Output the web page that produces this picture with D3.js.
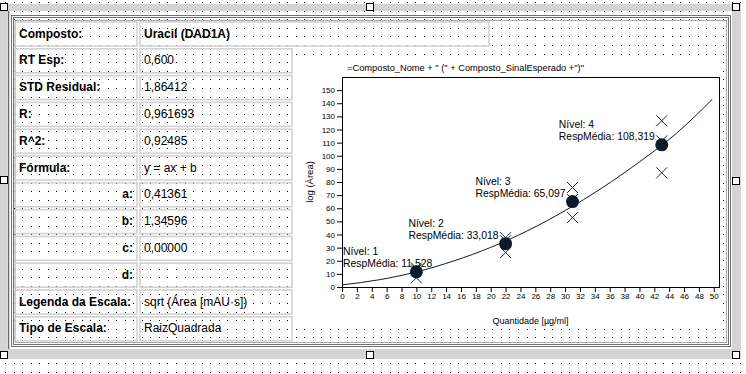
<!DOCTYPE html>
<html>
<head>
<meta charset="utf-8">
<script src="https://cdn.jsdelivr.net/npm/d3@7"></script>
<style>
  html, body { margin: 0; padding: 0; background: #fff; overflow: hidden; }
  svg { display: block; font-family: Arial, "Liberation Sans", sans-serif; }
</style>
</head>
<body>
<div id="chart"></div>
<script>
"use strict";

// report fields (left table)
const fieldLabels = ["Composto:", "RT Esp:", "STD Residual:", "R:", "R^2:", "Fórmula:",
    "a:", "b:", "c:", "d:", "Legenda da Escala:", "Tipo de Escala:"];
const fieldValues = ["Uracil (DAD1A)", "0,600", "1,86412", "0,961693", "0,92485", "y = ax + b",
    "0,41361", "1,34596", "0,00000", "", "sqrt (Área [mAU·s])", "RaizQuadrada"];
const rightAligned = ["a:", "b:", "c:", "d:"];
const boldValues = ["Uracil (DAD1A)"];

// calibration levels
const levels = [1, 2, 3, 4];
const levelQty = [10, 22, 31, 43];
const levelMean = [11.528, 33.018, 65.097, 108.319];
const levelMeanText = ["11,528", "33,018", "65,097", "108,319"];
const replicates = [
    [14.5, 13.1, 7.0],
    [37.6, 35.3, 26.2],
    [75.8, 66.6, 52.9],
    [126.7, 111.3, 87.0]
];

// fitted curve
const curveQty = [0, 5, 10, 15, 20, 25, 30, 35, 40, 45, 49.8];
const curveResp = [1.6, 5.5, 11.5, 19.8, 30.2, 43.0, 58.2, 75.6, 95.3, 117.2, 143.0];

// tick labels
const xTicks = [0, 2, 4, 6, 8, 10, 12, 14, 16, 18, 20, 22, 24, 26, 28, 30, 32, 34, 36, 38, 40, 42, 44, 46, 48, 50];
const yTicks = [0, 10, 20, 30, 40, 50, 60, 70, 80, 90, 100, 110, 120, 130, 140, 150];

const chartTitle = '=Composto_Nome + " (" + Composto_SinalEsperado +")"';
const xTitle = "Quantidade [µg/ml]";
const yTitle = "log (Área)";

const msm = {
    width: 746,
    height: 374,
    plotLeft: 342,
    plotRight: 719,
    plotTop: 77,
    plotBottom: 287
};

const svg = d3.select("#chart").append("svg")
    .attr("width", msm.width)
    .attr("height", msm.height);

// designer grid dots
let dots = "";
for (let y = 2; y < msm.height; y += 8.6) {
    for (let x = 5; x < msm.width; x += 8.55) {
        dots += "M" + Math.round(x) + "," + Math.round(y) + "h1v1h-1z";
    }
}
svg.append("path").attr("d", dots).attr("fill", "#000");

// selection band
svg.append("path")
    .attr("d", "M0,4H741V359H0Z M7,11V349H732V11Z")
    .attr("fill", "#d4d4d4")
    .attr("fill-rule", "evenodd");
svg.append("line")
    .attr("x1", 8.5).attr("x2", 8.5).attr("y1", 11).attr("y2", 349)
    .attr("stroke", "#6a6a6a").attr("stroke-width", 1.5);

// section frame lines
[[11.5, 15.5, 730.5, 346.5, "#707070"], [13.5, 17.5, 728.5, 344.5, "#707070"], [15.5, 20.5, 726.5, 342.5, "#a8a8a8"]]
    .forEach(r => {
        svg.append("rect")
            .attr("x", r[0]).attr("y", r[1])
            .attr("width", r[2] - r[0]).attr("height", r[3] - r[1])
            .attr("fill", "none").attr("stroke", r[4]).attr("stroke-width", 1);
    });

// table
const rowTop = i => 22 + i * 26.8;
const rows = svg.append("g").selectAll("g")
    .data(fieldLabels)
    .enter().append("g");

rows.append("rect")
    .attr("x", 15).attr("y", (d, i) => rowTop(i))
    .attr("width", 122).attr("height", 24)
    .attr("fill", "none").attr("stroke", "#d2d2d2").attr("stroke-width", 1.6);
rows.append("rect")
    .attr("x", 140).attr("y", (d, i) => rowTop(i))
    .attr("width", (d, i) => i === 0 ? 349 : 152).attr("height", 24)
    .attr("fill", "none").attr("stroke", "#d2d2d2").attr("stroke-width", 1.6);

rows.append("text")
    .attr("x", d => rightAligned.includes(d) ? 133 : 19)
    .attr("y", (d, i) => rowTop(i) + 15.5)
    .attr("text-anchor", d => rightAligned.includes(d) ? "end" : "start")
    .style("font-size", "12px")
    .style("font-weight", "bold")
    .text(d => d);

rows.append("text")
    .attr("x", 144)
    .attr("y", (d, i) => rowTop(i) + 15.5)
    .style("font-size", "12px")
    .style("font-weight", (d, i) => boldValues.includes(fieldValues[i]) ? "bold" : "normal")
    .text((d, i) => fieldValues[i]);

// chart background
svg.append("rect")
    .attr("x", 296).attr("y", 56)
    .attr("width", 426).attr("height", 267)
    .attr("fill", "#fff");

svg.append("text")
    .attr("x", 347).attr("y", 71)
    .style("font-size", "9.3px")
    .text(chartTitle);

// scales
const xScale = d3.scaleLinear().domain([0, 50.7]).range([msm.plotLeft, msm.plotRight]);
const yScale = d3.scaleLinear().domain([0, 160]).range([msm.plotBottom, msm.plotTop]);

// axes
const xAxis = svg.append("g")
    .attr("transform", "translate(0," + msm.plotBottom + ")")
    .call(d3.axisBottom(xScale).tickValues(xTicks).tickSize(5).tickPadding(1));
const yAxis = svg.append("g")
    .attr("transform", "translate(" + msm.plotLeft + ",0)")
    .call(d3.axisLeft(yScale).tickValues(yTicks).tickSize(5).tickPadding(2));
[xAxis, yAxis].forEach(a => {
    a.select(".domain").remove();
    a.selectAll("text").style("font-size", "8px").style("font-family", "Arial, 'Liberation Sans', sans-serif").attr("fill", "#000");
    a.selectAll("line").attr("stroke", "#000");
});

svg.append("rect")
    .attr("x", msm.plotLeft + 0.5).attr("y", msm.plotTop + 0.5)
    .attr("width", msm.plotRight - msm.plotLeft).attr("height", msm.plotBottom - msm.plotTop)
    .attr("fill", "none").attr("stroke", "#000").attr("stroke-width", 1);

svg.append("text")
    .attr("x", (msm.plotLeft + msm.plotRight) / 2).attr("y", 324)
    .attr("text-anchor", "middle")
    .style("font-size", "9px")
    .text(xTitle);

svg.append("text")
    .attr("transform", "translate(313," + (msm.plotTop + msm.plotBottom) / 2 + ") rotate(-90)")
    .attr("text-anchor", "middle")
    .style("font-size", "9.5px")
    .text(yTitle);

// replicate markers
const reps = [];
replicates.forEach((vals, i) => vals.forEach(v => reps.push({ q: levelQty[i], v: v })));
svg.append("g").selectAll("path")
    .data(reps)
    .enter().append("path")
    .attr("transform", d => "translate(" + xScale(d.q) + "," + yScale(d.v) + ")")
    .attr("d", "M-5.5,-5.5L5.5,5.5M-5.5,5.5L5.5,-5.5")
    .attr("stroke", "#1c2634")
    .attr("stroke-width", 1)
    .attr("fill", "none");

// fitted curve
const line = d3.line()
    .x((d, i) => xScale(curveQty[i]))
    .y(d => yScale(d))
    .curve(d3.curveMonotoneX);
svg.append("path")
    .attr("d", line(curveResp))
    .attr("fill", "none")
    .attr("stroke", "#0e1c2e")
    .attr("stroke-width", 1);

// mean points
svg.append("g").selectAll("circle")
    .data(levelMean)
    .enter().append("circle")
    .attr("cx", (d, i) => xScale(levelQty[i]))
    .attr("cy", d => yScale(d))
    .attr("r", 6.5)
    .attr("fill", "#0c1a2c");

// level labels
levels.forEach((lv, i) => {
    const px = xScale(levelQty[i]);
    const py = yScale(levelMean[i]);
    const g = svg.append("g").style("font-size", "10.4px");
    const t1 = g.append("text").attr("y", py - 17).text("Nível: " + lv);
    const t2 = g.append("text").attr("y", py - 5).text("RespMédia: " + levelMeanText[i]);
    const w = Math.max(t1.node().getComputedTextLength(), t2.node().getComputedTextLength());
    const left = Math.max(msm.plotLeft + 1, px - 7 - w);
    t1.attr("x", left);
    t2.attr("x", left);
});

// selection handles
[[4, 7], [370, 7], [736, 7], [4, 180], [736, 181], [4, 355], [370, 355], [736, 355]].forEach(h => {
    svg.append("rect")
        .attr("x", h[0] - 3.5).attr("y", h[1] - 3.5)
        .attr("width", 7).attr("height", 7)
        .attr("fill", "#fff").attr("stroke", "#000").attr("stroke-width", 1);
});
</script>
</body>
</html>
